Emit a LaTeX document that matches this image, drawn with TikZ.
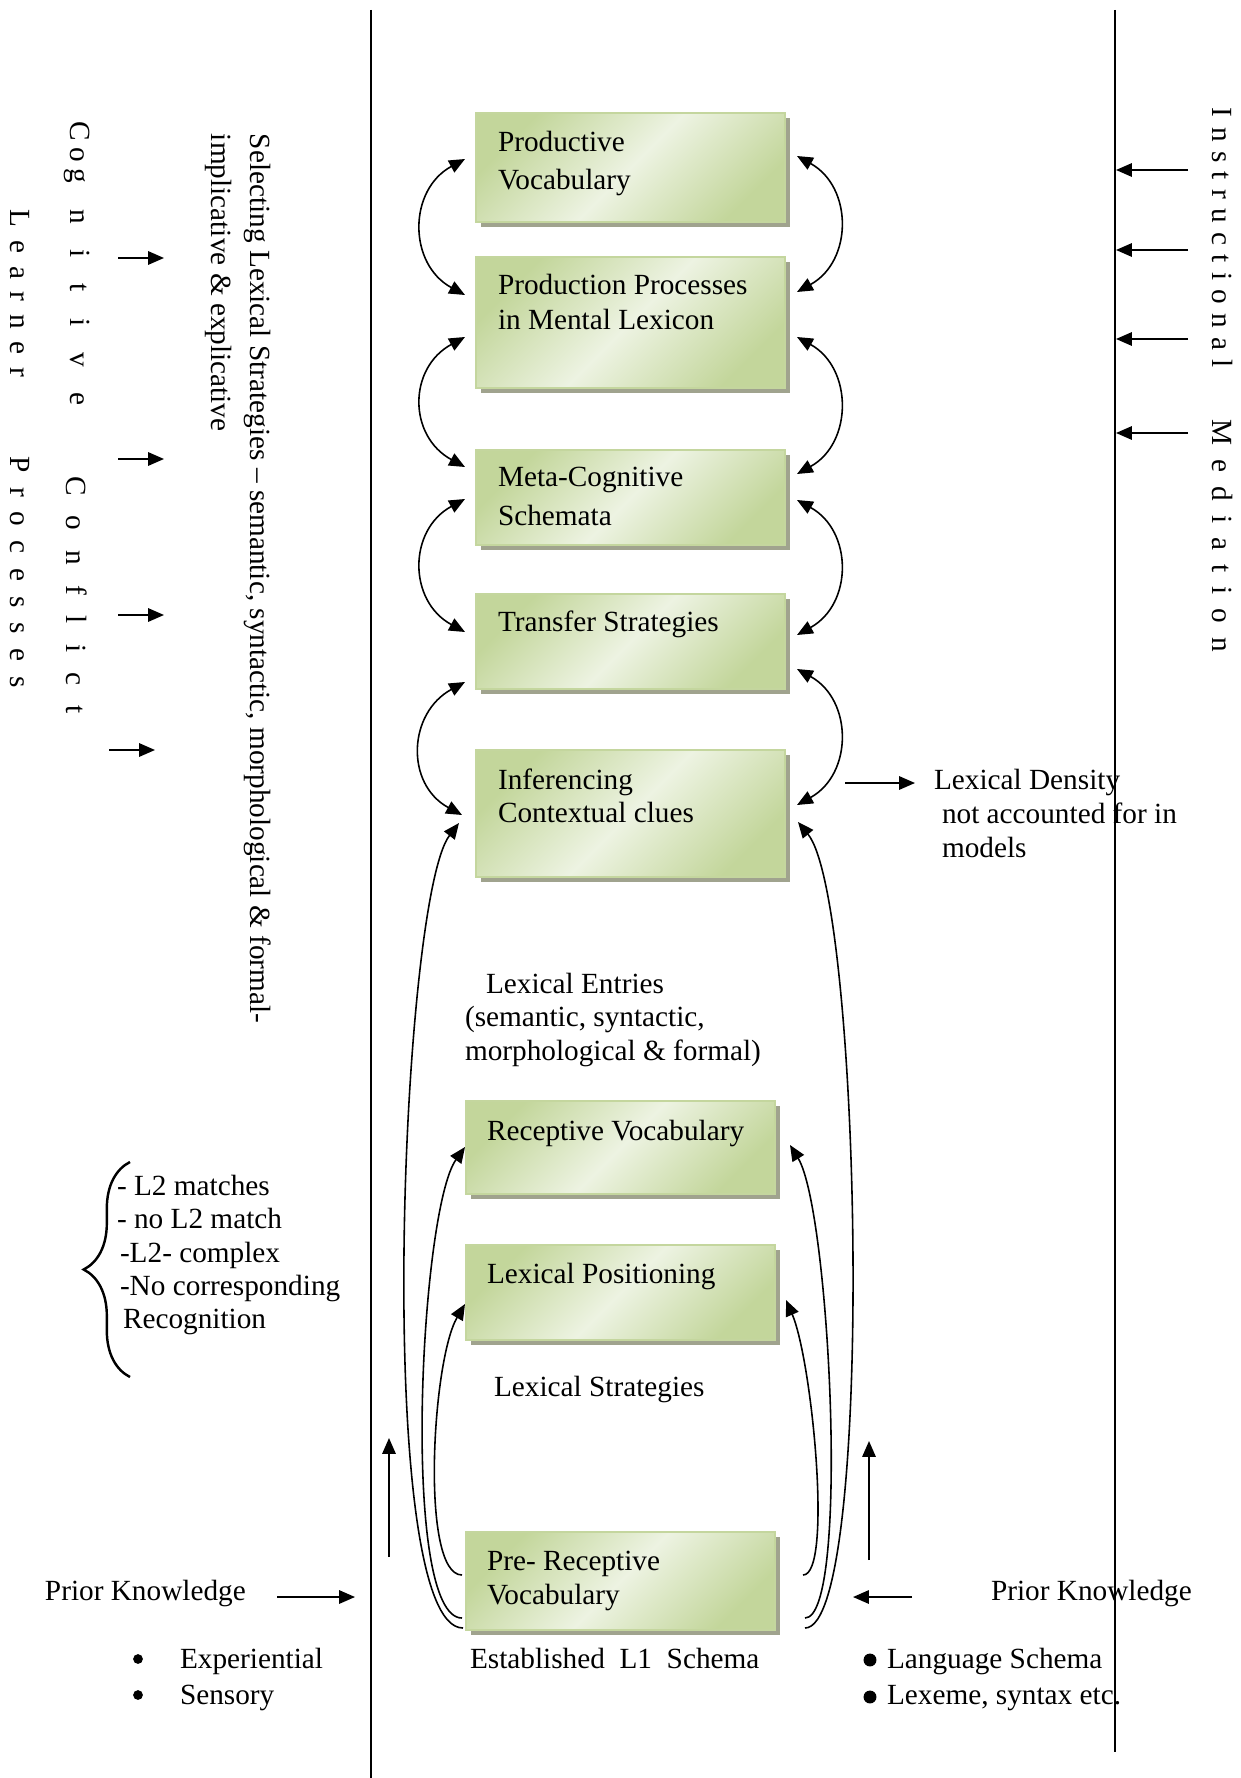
\documentclass[tikz,border=0pt]{standalone}
\usepackage{fontspec}
\setmainfont{Liberation Serif}
\usetikzlibrary{arrows.meta,shadows,fit,calc,decorations.pathreplacing}
\definecolor{gA}{RGB}{195,214,155}
\definecolor{gB}{RGB}{237,243,226}
\definecolor{gE}{RGB}{196,214,158}
\definecolor{shd}{RGB}{160,163,142}
\begin{document}
\begin{tikzpicture}[x=0.41pt,y=-0.41pt,
  every node/.style={font=\fontsize{12}{13.8}\selectfont, inner sep=0pt, outer sep=0pt},
  txt/.style={anchor=base west},
  vtxt/.style={rotate=-90, anchor=west},
  gbox/.style={draw=gE, line width=0.7pt, top color=gA, bottom color=gA, middle color=gB, shading angle=45,
    drop shadow={shadow xshift=2pt, shadow yshift=-2pt, fill=shd, opacity=1}},
  biarc/.style={line width=0.65pt, {Triangle[length=6.5pt,width=5.5pt]}-{Triangle[length=6.5pt,width=5.5pt]}},
  lng/.style={line width=0.65pt, -{Triangle[length=6.5pt,width=5.5pt]}},
  sarr/.style={line width=0.65pt, -{Triangle[length=6.5pt,width=5.5pt]}},
  rulel/.style={line width=1pt},
  dot/.style={circle, fill=black, draw=none}
]
\useasboundingbox (0,0) rectangle (1240,1778);

% vertical rules
\coordinate (vl1) at (371,10); \coordinate (vl2) at (371,1778);
\coordinate (vr1) at (1115,10); \coordinate (vr2) at (1115,1752);
\draw[rulel] (vl1) -- (vl2);
\draw[rulel] (vr1) -- (vr2);

% boxes
\node[gbox, fit={(476,113) (785,222)}] (b1) {};
\node[gbox, fit={(476,257) (785,388)}] (b2) {};
\node[gbox, fit={(476,450) (785,545)}] (b3) {};
\node[gbox, fit={(476,594) (785,689)}] (b4) {};
\node[gbox, fit={(476,750) (785,877)}] (b5) {};
\node[gbox, fit={(466,1101) (775,1194)}] (b6) {};
\node[gbox, fit={(466,1245) (775,1340)}] (b7) {};
\node[gbox, fit={(466,1532) (775,1630)}] (b8) {};

% box texts
\node[txt] (t1a) at (498,152) {Productive};
\node[txt] (t1b) at (498,190) {Vocabulary};
\node[txt] (t2a) at (498,295) {Production Processes};
\node[txt] (t2b) at (498,330) {in Mental Lexicon};
\node[txt] (t3a) at (498,486) {Meta-Cognitive};
\node[txt] (t3b) at (498,525) {Schemata};
\node[txt] (t4a) at (498,631) {Transfer Strategies};
\node[txt] (t5a) at (498,789) {Inferencing};
\node[txt] (t5b) at (498,822) {Contextual clues};
\node[txt] (t6a) at (487,1140) {Receptive Vocabulary};
\node[txt] (t7a) at (487,1283) {Lexical Positioning};
\node[txt] (t8a) at (487,1570) {Pre- Receptive};
\node[txt] (t8b) at (487,1604) {Vocabulary};

% left arcs
\draw[biarc] ($(b1.north west)+(-11,46)$) .. controls +(-57,31) and +(-57,-31) .. ($(b2.north west)+(-11,38)$);
\draw[biarc] ($(b2.north west)+(-11,80)$) .. controls +(-57,31) and +(-57,-31) .. ($(b3.north west)+(-11,17)$);
\draw[biarc] ($(b3.north west)+(-11,49)$) .. controls +(-57,31) and +(-57,-31) .. ($(b4.north west)+(-11,38)$);
\draw[biarc] ($(b4.north west)+(-11,88)$) .. controls +(-57,31) and +(-57,-31) .. ($(b5.north west)+(-14,65)$);
% right arcs
\draw[biarc] ($(b1.north east)+(12,43)$) .. controls +(56,31) and +(56,-31) .. ($(b2.north east)+(12,35)$);
\draw[biarc] ($(b2.north east)+(12,80)$) .. controls +(56,31) and +(56,-31) .. ($(b3.north east)+(12,24)$);
\draw[biarc] ($(b3.north east)+(12,50)$) .. controls +(56,31) and +(56,-31) .. ($(b4.north east)+(12,41)$);
\draw[biarc] ($(b4.north east)+(12,75)$) .. controls +(56,31) and +(56,-31) .. ($(b5.north east)+(12,55)$);

% long curves from pre-receptive
\draw[lng] ($(b8.north west)+(-4,43)$) .. controls +(-42,0) and +(-33,56) .. ($(b7.north west)+(-1,59)$);
\draw[lng] ($(b8.north west)+(-4,86)$) .. controls +(-62,0) and +(-45,63) .. ($(b6.north west)+(-1,46)$);
\draw[lng] ($(b8.north west)+(-3,96)$) .. controls +(-90,0) and +(-59,77) .. ($(b5.north west)+(-17,73)$);
\draw[lng] ($(b8.north east)+(28,43)$) .. controls +(30,0) and +(26,60) .. ($(b7.north east)+(11,55)$);
\draw[lng] ($(b8.north east)+(30,86)$) .. controls +(45,0) and +(40,65) .. ($(b6.north east)+(15,44)$);
\draw[lng] ($(b8.north east)+(30,96)$) .. controls +(70,0) and +(64,78) .. ($(b5.north east)+(13,72)$);

% lexical density
\node[txt] (ld1) at (934,789) {Lexical Density};
\node[txt] (ld2) at (942,823) {not accounted for in};
\node[txt] (ld3) at (942,857) {models};
\coordinate (lda) at (845,783); \coordinate (ldb) at (915,783);
\draw[sarr] (lda) -- (ldb);

% lexical entries
\node[txt] (le1) at (486,993) {Lexical Entries};
\node[txt] (le2) at (465,1026) {(semantic, syntactic,};
\node[txt] (le3) at (465,1060) {morphological \& formal)};
\node[txt] (ls1) at (494,1396) {Lexical Strategies};

% left rotated texts
\node[vtxt] (sel1) at (258,134) {Selecting Lexical Strategies – semantic, syntactic, morphological \& formal-};
\node[vtxt] (sel2) at (219,134) {implicative \& explicative};
\node[vtxt] (cog1) at (77,122) {\makebox[116.4pt][s]{C\hspace{2.5pt}o\hspace{2.5pt}g\hfill n\hfill i\hfill t\hfill i\hfill v\hfill e}};
\node[vtxt] (cog2) at (77,476) {\makebox[97.6pt][s]{C\hfill o\hfill n\hfill f\hfill l\hfill i\hfill c\hfill t}};
\node[vtxt] (lrn1) at (20,210) {\makebox[68.5pt][s]{L\hfill e\hfill a\hfill r\hfill n\hfill e\hfill r}};
\node[vtxt] (lrn2) at (20,456) {\makebox[95.1pt][s]{P\hfill r\hfill o\hfill c\hfill e\hfill s\hfill s\hfill e\hfill s}};
% right rotated text
\node[vtxt] (ins1) at (1222,108) {\makebox[106.6pt][s]{I\hfill n\hfill s\hfill t\hfill r\hfill u\hfill c\hfill t\hfill i\hfill o\hfill n\hfill a\hfill l}};
\node[vtxt] (ins2) at (1222,420) {\makebox[95pt][s]{M\hfill e\hfill d\hfill i\hfill a\hfill t\hfill i\hfill o\hfill n}};

% left small arrows
\coordinate (p1a) at (118,258); \coordinate (p1b) at (164,258);
\coordinate (p2a) at (118,459); \coordinate (p2b) at (164,459);
\coordinate (p3a) at (118,615); \coordinate (p3b) at (164,615);
\coordinate (p4a) at (109,750); \coordinate (p4b) at (155,750);
\draw[sarr] (p1a) -- (p1b);
\draw[sarr] (p2a) -- (p2b);
\draw[sarr] (p3a) -- (p3b);
\draw[sarr] (p4a) -- (p4b);

% right small arrows
\coordinate (q1a) at (1188,170); \coordinate (q1b) at (1116,170);
\coordinate (q2a) at (1188,250); \coordinate (q2b) at (1116,250);
\coordinate (q3a) at (1188,339); \coordinate (q3b) at (1116,339);
\coordinate (q4a) at (1188,433); \coordinate (q4b) at (1116,433);
\draw[sarr] (q1a) -- (q1b);
\draw[sarr] (q2a) -- (q2b);
\draw[sarr] (q3a) -- (q3b);
\draw[sarr] (q4a) -- (q4b);

% brace and list
\coordinate (br1) at (130,1377); \coordinate (br2) at (130,1162);
\draw[line width=1pt, decorate, decoration={brace, amplitude=19pt}] (br1) -- (br2);
\node[txt] (l1) at (117,1195) {- L2 matches};
\node[txt] (l2) at (117,1228) {- no L2 match};
\node[txt] (l3) at (120,1262) {-L2- complex};
\node[txt] (l4) at (120,1295) {-No corresponding};
\node[txt] (l5) at (123,1328) {Recognition};

% up arrows
\coordinate (u1a) at (389,1557); \coordinate (u1b) at (389,1438);
\coordinate (u2a) at (869,1560); \coordinate (u2b) at (869,1441);
\draw[sarr] (u1a) -- (u1b);
\draw[sarr] (u2a) -- (u2b);

% prior knowledge
\node[txt] (pk1) at (45,1600) {Prior Knowledge};
\node[txt] (pk2) at (991,1600) {Prior Knowledge};
\coordinate (k1a) at (277,1597); \coordinate (k1b) at (355,1597);
\coordinate (k2a) at (912,1597); \coordinate (k2b) at (853,1597);
\draw[sarr] (k1a) -- (k1b);
\draw[sarr] (k2a) -- (k2b);

% bullets
\node[dot, minimum size=4pt] (bl1) at (138,1659) {};
\node[dot, minimum size=4pt] (bl2) at (138,1695) {};
\node[txt] (e1) at (180,1668) {Experiential};
\node[txt] (e2) at (180,1704) {Sensory};
\node[dot, minimum size=5.3pt] (br3) at (870,1660) {};
\node[dot, minimum size=5.3pt] (br4) at (870,1697) {};
\node[txt] (e3) at (887,1668) {Language Schema};
\node[txt] (e4) at (887,1704) {Lexeme, syntax etc.};
\node[txt] (est) at (470,1668) {Established\ \ L1\ \ Schema};
\end{tikzpicture}
\end{document}
